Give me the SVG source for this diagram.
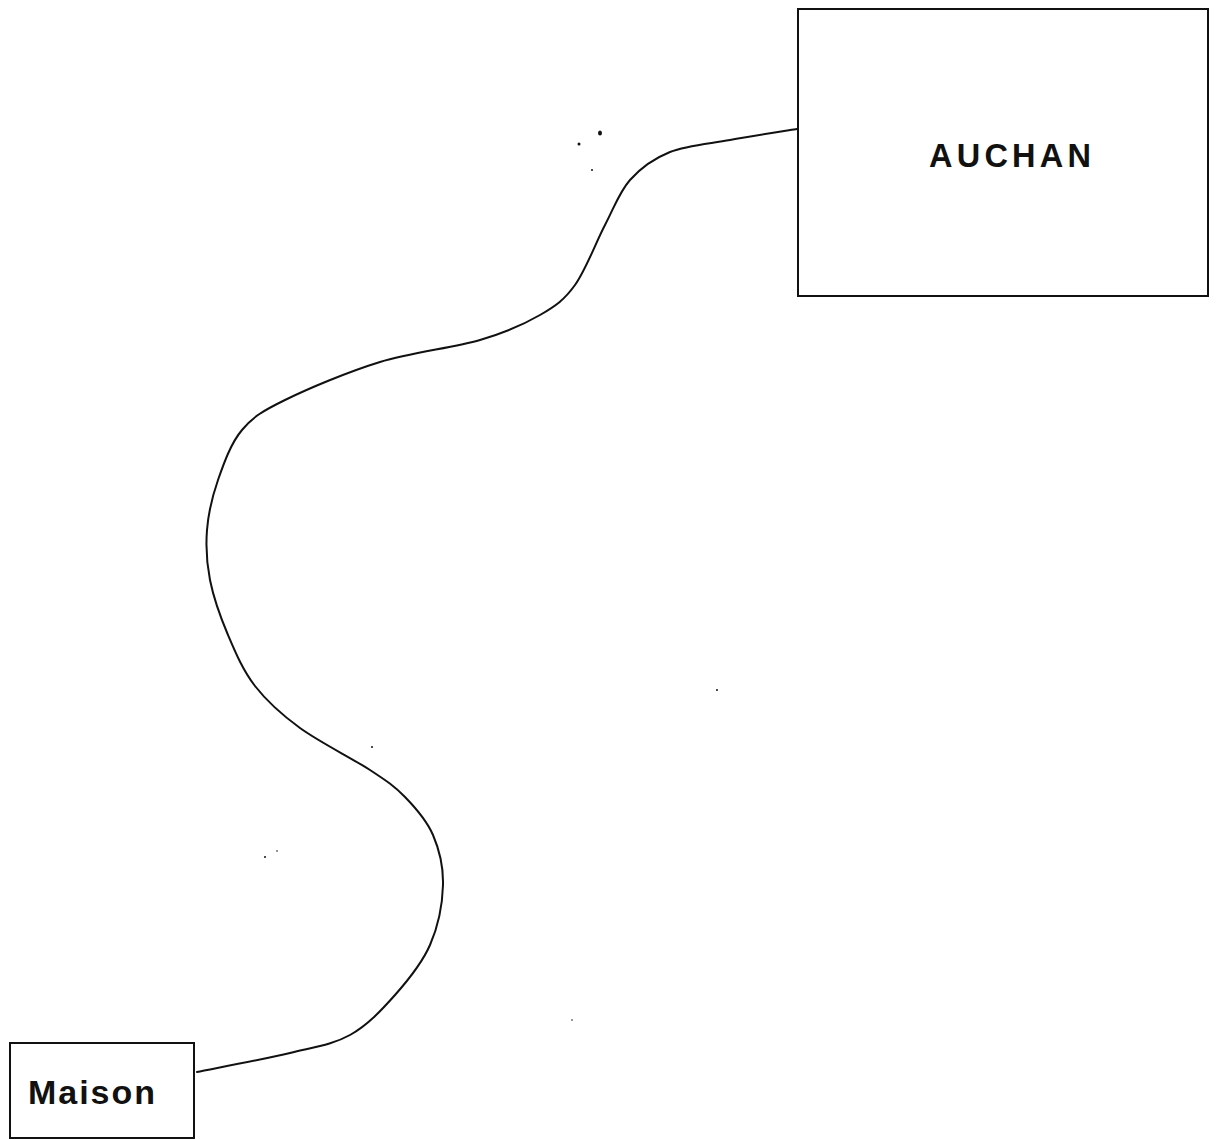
<svg xmlns="http://www.w3.org/2000/svg" width="1219" height="1140" viewBox="0 0 1219 1140">
<style>
.box{fill:#fff;stroke:#111;stroke-width:2}
.lbl{font-family:"Liberation Sans",Arial,sans-serif;font-weight:bold;fill:#111}
.wire{fill:none;stroke:#111;stroke-width:2;stroke-linecap:round;stroke-linejoin:round}
.speck{fill:#111}
</style>
<rect width="1219" height="1140" fill="#fff"/>
<g id="connectors">
<path class="wire" d="M197,1072 C212.5,1068.8 264.5,1059.2 290,1053 C315.5,1046.8 332.5,1044.7 350,1035 C367.5,1025.3 381.7,1010 395,995 C408.3,980 422,963.3 430,945 C438,926.7 442.5,903.3 443,885 C443.5,866.7 439.3,849.7 433,835 C426.7,820.3 415.5,807.8 405,797 C394.5,786.2 387.5,781.5 370,770 C352.5,758.5 319.2,742 300,728 C280.8,714 267,701.5 255,686 C243,670.5 235.5,652.7 228,635 C220.5,617.3 213.5,597.5 210,580 C206.5,562.5 205.7,546.7 207,530 C208.3,513.3 212.2,496.7 218,480 C223.8,463.3 230.8,443.3 242,430 C253.2,416.7 262,411.3 285,400 C308,388.7 347.5,372 380,362 C411.7,352.3 453.3,347.8 480,340 C506.7,332.2 524.2,324.2 540,315 C555.8,305.8 564.2,300 575,285 C585.8,270 595.8,242.5 605,225 C614.2,207.5 619.2,192.2 630,180 C640.8,167.8 653.3,158.7 670,152 C686.7,145.3 708.8,143.8 730,140 C751.2,136.2 785.8,130.8 797,129"/>
</g>
<g id="auchan">
<rect class="box" x="798" y="9" width="410" height="287"/>
<text class="lbl" x="1010" y="167" font-size="32.5" text-anchor="middle" textLength="162" lengthAdjust="spacing">AUCHAN</text>
</g>
<g id="maison">
<rect class="box" x="10" y="1043" width="184" height="95"/>
<text class="lbl" x="28" y="1104" font-size="34" textLength="127" lengthAdjust="spacing">Maison</text>
</g>
<g id="specks">
<ellipse class="speck" cx="600" cy="133" rx="2" ry="2.5"/>
<circle class="speck" cx="579" cy="144" r="1.5"/>
<circle class="speck" cx="592" cy="170" r="1"/>
<circle class="speck" cx="372" cy="747" r="1"/>
<circle class="speck" cx="265" cy="857" r="1"/>
<circle class="speck" cx="277" cy="851" r="0.8"/>
<circle class="speck" cx="717" cy="690" r="1"/>
<circle class="speck" cx="572" cy="1020" r="0.8"/>
</g>
</svg>
